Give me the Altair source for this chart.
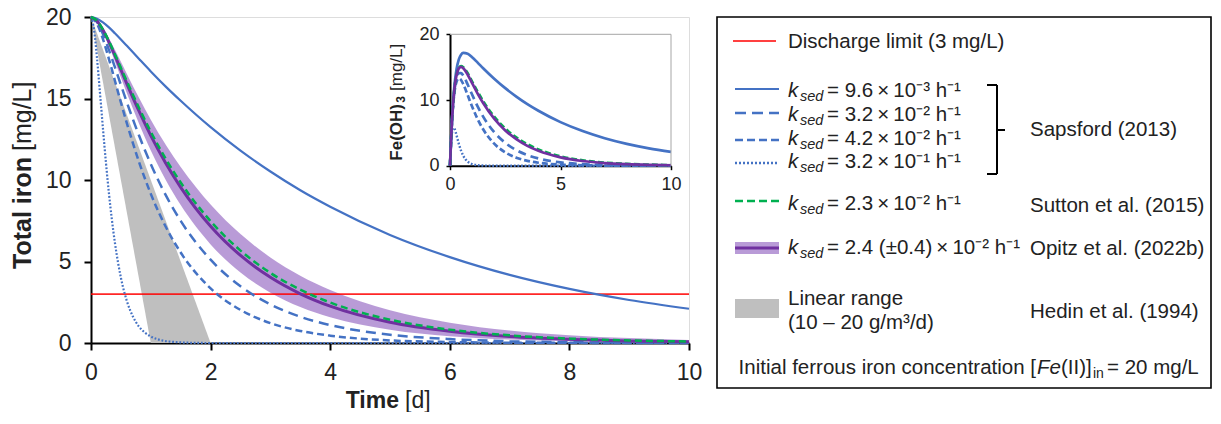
import altair as alt
import pandas as pd

FONT = "Liberation Sans"
TXT = "#222222"
BLUE = "#4472c4"
GREEN = "#00b050"
PURPLE = "#7030a0"
BAND = "#ad89d0"
GRAY = "#bfbfbf"
RED = "#ff0000"

# ---------------- data ----------------
T = [0, 0.1, 0.2, 0.3, 0.4, 0.5, 0.6, 0.8, 1.0, 1.25, 1.5, 2, 2.5, 3, 3.5, 4, 5, 6, 7, 8, 9, 10]
TD = [0, 0.05, 0.1, 0.15, 0.2, 0.25, 0.3, 0.35, 0.4, 0.5, 0.6, 0.7, 0.8, 0.9, 1.0, 1.2, 1.4, 1.6, 2, 3, 4, 5, 6, 7, 8, 9, 10]

# Total iron [mg/L]
tot_96e3 = [20.0, 19.90, 19.67, 19.36, 19.00, 18.62, 18.23, 17.44, 16.66, 15.73, 14.86, 13.24, 11.80, 10.52, 9.37, 8.36, 6.63, 5.27, 4.18, 3.32, 2.64, 2.10]
tot_32e2 = [20.0, 19.69, 18.95, 17.98, 16.92, 15.83, 14.76, 12.76, 10.98, 9.07, 7.49, 5.11, 3.48, 2.37, 1.61, 1.10, 0.51, 0.24, 0.11, 0.05, 0.02, 0.01]
tot_42e2 = [20.0, 19.59, 18.64, 17.42, 16.09, 14.76, 13.48, 11.14, 9.15, 7.13, 5.55, 3.35, 2.03, 1.22, 0.74, 0.45, 0.16, 0.06, 0.02, 0.01, 0.0, 0.0]
tot_32e1 = [20.0, 19.24, 17.49, 15.35, 13.15, 11.06, 9.18, 7.54, 6.15, 4.01, 2.57, 1.63, 1.02, 0.64, 0.40, 0.15, 0.06, 0.02, 0.0, 0.0, 0.0, 0.0, 0.0, 0.0, 0.0, 0.0, 0.0]
tot_23e2 = [20.0, 19.77, 19.23, 18.52, 17.72, 16.88, 16.05, 14.45, 12.96, 11.30, 9.85, 7.47, 5.67, 4.30, 3.27, 2.48, 1.43, 0.82, 0.47, 0.27, 0.16, 0.09]
tot_24e2 = [20.0, 19.76, 19.20, 18.46, 17.63, 16.76, 15.90, 14.25, 12.72, 11.03, 9.55, 7.16, 5.37, 4.03, 3.02, 2.26, 1.27, 0.72, 0.40, 0.23, 0.13, 0.07]
tot_24_hi = [20.0, 19.80, 19.33, 18.70, 17.99, 17.25, 16.51, 15.06, 13.70, 12.16, 10.79, 8.49, 6.68, 5.25, 4.13, 3.25, 2.01, 1.25, 0.77, 0.48, 0.30, 0.18]
tot_24_lo = [20.0, 19.72, 19.07, 18.22, 17.27, 16.29, 15.32, 13.48, 11.81, 10.00, 8.46, 6.05, 4.32, 3.09, 2.21, 1.58, 0.81, 0.41, 0.21, 0.11, 0.06, 0.03]

# Linear range (Hedin et al. 1994)
lin_t = [0, 1, 2]
lin_hi = [20, 10, 0]
lin_lo = [20, 0, 0]

discharge_limit = [3]

# Fe(OH)3 [mg/L] (inset)
fe_96e3 = [0, 7.65, 12.17, 14.76, 16.18, 16.89, 17.17, 17.04, 16.51, 15.69, 14.84, 13.24, 11.80, 10.52, 9.37, 8.36, 6.63, 5.27, 4.18, 3.32, 2.64, 2.10]
fe_32e2 = [0, 7.43, 11.44, 13.38, 14.10, 14.11, 13.71, 12.36, 10.83, 9.03, 7.48, 5.10, 3.48, 2.37, 1.61, 1.10, 0.51, 0.24, 0.11, 0.05, 0.02, 0.01]
fe_42e2 = [0, 7.34, 11.13, 12.82, 13.28, 13.04, 12.42, 10.74, 9.00, 7.09, 5.54, 3.35, 2.03, 1.22, 0.74, 0.45, 0.16, 0.06, 0.02, 0.01, 0.0, 0.0]
fe_32e1 = [0, 3.58, 5.24, 5.76, 5.64, 5.19, 4.58, 3.95, 3.33, 2.28, 1.51, 0.98, 0.62, 0.39, 0.25, 0.10, 0.04, 0.01, 0.0, 0.0, 0.0, 0.0, 0.0, 0.0, 0.0, 0.0, 0.0]
fe_23e2 = [0, 7.52, 11.72, 13.92, 14.90, 15.16, 14.99, 14.06, 12.81, 11.26, 9.83, 7.47, 5.67, 4.30, 3.27, 2.48, 1.43, 0.82, 0.47, 0.27, 0.16, 0.09]
fe_24e2 = [0, 7.51, 11.69, 13.86, 14.81, 15.04, 14.84, 13.85, 12.57, 10.98, 9.54, 7.16, 5.37, 4.03, 3.02, 2.26, 1.27, 0.72, 0.40, 0.23, 0.13, 0.07]

main_x_ticks = [0, 2, 4, 6, 8, 10]
main_y_ticks = [0, 5, 10, 15, 20]
inset_x_ticks = [0, 5, 10]
inset_y_ticks = [0, 10, 20]

legend_k = ["= 9.6\u2009×\u200910⁻³ h⁻¹", "= 3.2\u2009×\u200910⁻² h⁻¹",
            "= 4.2\u2009×\u200910⁻² h⁻¹", "= 3.2\u2009×\u200910⁻¹ h⁻¹"]
legend_sutton = "= 2.3\u2009×\u200910⁻² h⁻¹"
legend_opitz = "= 2.4 (±0.4)\u2009×\u200910⁻² h⁻¹"

# ---------------- layout ----------------
W, H = 598, 326          # main plot area
OX, OY = 91, 17          # page position of the plot origin
CW, CH = 1205, 404       # whole canvas
PAD = {"left": OX - 8, "top": OY - 8, "right": CW - (OX - 8) - W, "bottom": CH - (OY - 8) - H}
LF = 20.5                # legend font size
RC = 1030                # right column of the legend

def px(v):
    return alt.value(v - OX)

def py(v):
    return alt.value(v - OY)

one = pd.DataFrame({"i": [0]})

def df(t, v):
    return pd.DataFrame({"t": t, "v": v})

# main scales / axes
xs = alt.Scale(domain=[0, 10], nice=False, zero=False)
ys = alt.Scale(domain=[0, 20], nice=False)
ax_common = dict(title=None, grid=False, labelFont=FONT, labelFontSize=23, labelColor=TXT,
                 domainColor="black", domainWidth=2, tickColor="black", tickWidth=2, tickSize=7)
xax = alt.Axis(values=main_x_ticks, labelPadding=11, labelFlush=False, **ax_common)
yax = alt.Axis(values=main_y_ticks, labelPadding=13, **ax_common)

def X(field="t"):
    return alt.X(f"{field}:Q", scale=xs, axis=xax)

def Y(field="v"):
    return alt.Y(f"{field}:Q", scale=ys, axis=yax)

def mline(d, color, width, dash=None):
    kw = dict(color=color, strokeWidth=width, interpolate="monotone")
    if dash:
        kw["strokeDash"] = dash
    return alt.Chart(d).mark_line(**kw).encode(x=X(), y=Y())

lin_df = pd.DataFrame({"t": lin_t, "hi": lin_hi, "lo": lin_lo})
band_df = pd.DataFrame({"t": T, "hi": tot_24_hi, "lo": tot_24_lo})

main = alt.layer(
    alt.Chart(lin_df).mark_area(color=GRAY, opacity=1).encode(x=X(), y=Y("hi"), y2="lo:Q"),
    alt.Chart(band_df).mark_area(color=BAND, opacity=0.85, interpolate="monotone").encode(x=X(), y=Y("hi"), y2="lo:Q"),
    alt.Chart(pd.DataFrame({"v": discharge_limit})).mark_rule(color=RED, strokeWidth=1.6, opacity=0.85).encode(y=Y()),
    mline(df(T, tot_96e3), BLUE, 2.2),
    mline(df(T, tot_32e2), BLUE, 2.5, [10, 6]),
    mline(df(T, tot_42e2), BLUE, 2.5, [7, 4]),
    mline(df(TD, tot_32e1), BLUE, 2.2, [1.8, 1.8]),
    mline(df(T, tot_24e2), PURPLE, 3),
    mline(df(T, tot_23e2), GREEN, 2.5, [7, 4]),
)

# inset scales / axes (own pixel ranges inside the main frame)
IX0, IX1 = 450 - OX, 671 - OX
IY0, IY1 = 165.7 - OY, 34.3 - OY
ixs = alt.Scale(domain=[0, 10], range=[IX0, IX1], nice=False, zero=False)
iys = alt.Scale(domain=[0, 20], range=[IY0, IY1], nice=False)
iax_common = dict(title=None, grid=False, labelFont=FONT, labelFontSize=18, labelColor=TXT,
                  domainColor="black", domainWidth=2, tickColor="black", tickWidth=1.5, tickSize=4)
ixax = alt.Axis(values=inset_x_ticks, orient="bottom", offset=-(H - IY0), labelPadding=6, labelFlush=False, **iax_common)
iyax = alt.Axis(values=inset_y_ticks, orient="left", offset=-IX0, labelPadding=7, **iax_common)

def iline(d, color, width, dash=None):
    kw = dict(color=color, strokeWidth=width, interpolate="monotone")
    if dash:
        kw["strokeDash"] = dash
    return alt.Chart(d).mark_line(**kw).encode(
        x=alt.X("t:Q", scale=ixs, axis=ixax), y=alt.Y("v:Q", scale=iys, axis=iyax))

def seg(x1, y1, x2, y2, color="black", width=2, dash=None):
    kw = dict(color=color, strokeWidth=width)
    if dash:
        kw["strokeDash"] = dash
    return alt.Chart(one).mark_rule(**kw).encode(x=px(x1), y=py(y1), x2=px(x2), y2=py(y2))

inset = alt.layer(
    iline(df(T, fe_96e3), BLUE, 2.7),
    iline(df(T, fe_32e2), BLUE, 2.7, [8, 5]),
    iline(df(T, fe_42e2), BLUE, 2.7, [6, 3]),
    iline(df(TD, fe_32e1), BLUE, 2.4, [1.8, 1.8]),
    iline(df(T, fe_23e2), GREEN, 2.7, [6, 3]),
    iline(df(T, fe_24e2), PURPLE, 2.7),
)

def text(s, x, y, size=LF, style="normal", weight="normal", align="left", angle=0):
    return alt.Chart(one).mark_text(
        text=s, font=FONT, fontSize=size, fontStyle=style, fontWeight=weight,
        align=align, angle=angle, baseline="middle", color=TXT,
    ).encode(x=px(x), y=py(y))

def rect(x1, y1, x2, y2, fill, opacity=1, stroke=None, sw=0):
    kw = dict(fill=fill, fillOpacity=opacity)
    if stroke:
        kw.update(stroke=stroke, strokeWidth=sw)
    return alt.Chart(one).mark_rect(**kw).encode(x=px(x1), y=py(y1), x2=px(x2), y2=py(y2))

ann = [
    # axis titles
    text("Total iron", 23, 157, 25, weight="bold", align="right", angle=270),
    text("[mg/L]", 23, 151, 25, align="left", angle=270),
    text("Time", 399, 401, 23, weight="bold", align="right"),
    text("[d]", 405, 401, 23, align="left"),
    text("Fe(OH)", 397, 104, 17, weight="bold", align="right", angle=270),
    text("3", 401, 96, 12, weight="bold", align="right", angle=270),
    text("[mg/L]", 397, 91, 17, align="left", angle=270),
    # inset frame (top and right)
    seg(450, 34.3, 671, 34.3, "#a6a6a6", 1),
    seg(671, 34.3, 671, 165.7, "#a6a6a6", 1),
    # legend box
    rect(717, 17, 1211, 388, "white", 0, "black", 1.6),
    seg(733, 41, 776, 41, RED, 1.6),
    text("Discharge limit (3 mg/L)", 788, 42),
]

k_rows_y = [91, 115, 139, 162]
k_lines_y = [89, 113, 140, 163]
k_dash = [None, [11, 6], [8, 4], [2, 2]]
for s, ty, ly, dsh in zip(legend_k, k_rows_y, k_lines_y, k_dash):
    ann += [
        seg(735, ly, 779, ly, BLUE, 2.5 if dsh else 2.2, dsh),
        text("k", 788, ty, LF, style="italic"),
        text("sed", 800, ty + 6, 14.5, style="italic"),
        text(s, 827, ty),
    ]

ann += [
    # bracket
    seg(987, 85, 997, 85), seg(997, 85, 997, 174), seg(987, 174, 997, 174), seg(997, 130, 1005, 130),
    text("Sapsford (2013)", RC, 130),
    # Sutton
    seg(735, 201, 779, 201, GREEN, 2.5, [8, 4]),
    text("k", 788, 204, LF, style="italic"),
    text("sed", 800, 210, 14.5, style="italic"),
    text(legend_sutton, 827, 204),
    text("Sutton et al. (2015)", RC, 206),
    # Opitz
    rect(735, 242, 779, 254, BAND, 0.85),
    seg(735, 248, 779, 248, PURPLE, 3),
    text("k", 788, 248, LF, style="italic"),
    text("sed", 800, 254, 14.5, style="italic"),
    text(legend_opitz, 827, 248),
    text("Opitz et al. (2022b)", RC, 249),
    # Linear range
    rect(735, 299, 779, 318, GRAY),
    text("Linear range", 788, 299),
    text("(10 – 20 g/m³/d)", 788, 323),
    text("Hedin et al. (1994)", RC, 312),
    # initial concentration
    text("Initial ferrous iron concentration [", 1036, 368, align="right"),
    text("Fe", 1037, 368, style="italic"),
    text("(II)]", 1061, 368),
    text("in", 1093, 374, 14),
    text("= 20 mg/L", 1107, 368),
]

legend = alt.layer(*ann)

chart = alt.layer(main, inset, legend).resolve_scale(x="independent", y="independent").properties(
    width=W, height=H, padding=PAD, autosize=alt.AutoSizeParams(type="none"),
).configure_view(stroke="black", strokeWidth=2).configure(background="white")

chart.save("out.html", embed_options={"renderer": "svg", "actions": False})
